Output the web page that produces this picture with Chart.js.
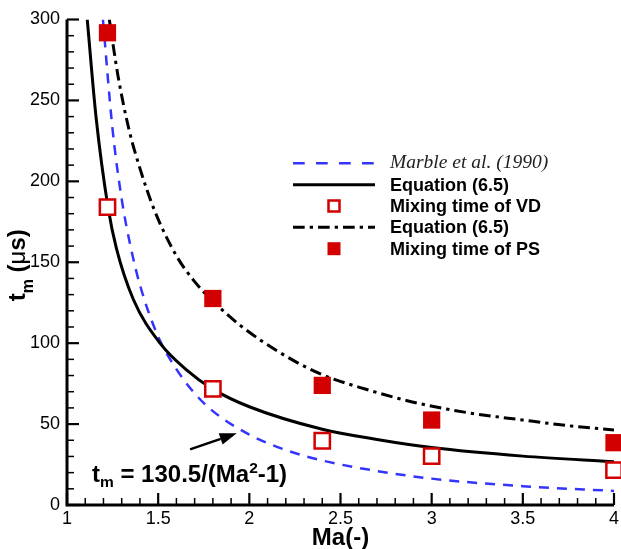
<!DOCTYPE html>
<html>
<head>
<meta charset="utf-8">
<script src="https://cdn.jsdelivr.net/npm/chart.js@4.4.0/dist/chart.umd.min.js"></script>
<style>
  html, body { margin: 0; padding: 0; background: #fff; }
</style>
</head>
<body>
<canvas id="mixChart" width="621" height="549"></canvas>
<script>
// Marble et al. (1990) - blue dashed curve
const maMarble = [1.197, 1.25, 1.3, 1.35, 1.4, 1.5, 1.6, 1.7, 1.8, 2.0, 2.2, 2.4, 2.7, 3.0, 3.5, 4.0];
const tMarble = [300, 232, 189, 159, 136, 104, 84, 69, 58, 43.5, 34, 27.5, 21, 16.3, 11.6, 8.7];

// Equation (6.5) - solid black curve
const maSolid = [1.111, 1.16, 1.225, 1.27, 1.364, 1.51, 1.65, 1.8, 2.0, 2.4, 2.7, 3.0, 3.5, 4.0];
const tSolid = [300, 239, 184, 159, 127, 100, 84, 71.6, 60.7, 46.8, 40.5, 35.5, 30.2, 26.7];

// Equation (6.5) - dash-dot curve
const maDashDot = [1.232, 1.28, 1.34, 1.40, 1.48, 1.6, 1.7, 1.8, 1.95, 2.17, 2.39, 2.64, 2.92, 3.2, 3.5, 3.75, 4.0];
const tDashDot = [300, 265, 232, 208, 182, 154, 138, 126, 111, 94, 81, 71.5, 63, 57, 52.5, 49, 46.3];

// Mixing time points
const maPoints = [1.222, 1.8, 2.4, 3.0, 4.0];
const tVD = [184, 71.8, 39.7, 30.2, 21.6];
const tPS = [291.8, 127.6, 73.9, 52.5, 38.5];

// Legend / annotation texts
const legendLabels = ['Marble et al. (1990)', 'Equation (6.5)', 'Mixing time of VD', 'Equation (6.5)', 'Mixing time of PS'];
const annotationPos = [1.137, 14.4];
const arrowFrom = [1.675, 34.4];
const arrowTo = [1.931, 44.3];

const RED = '#d20000';
const BLUE = '#3434ff';
const SANS = "'Liberation Sans', Arial, Helvetica, sans-serif";
const SERIF = "'Liberation Serif', 'Times New Roman', serif";

const toXY = (xs, ys) => xs.map((x, i) => ({x: x, y: ys[i]}));

//Оси и засечки внутрь
const axesPlugin = {
  id: 'axesPlugin',
  afterDraw(chart) {
    const ctx = chart.ctx;
    const xs = chart.scales.x;
    const ys = chart.scales.y;
    const area = chart.chartArea;
    ctx.save();
    ctx.strokeStyle = '#000';
    ctx.lineCap = 'butt';

    // x ticks
    for (let i = 0; i <= 30; i++) {
      const v = 1 + i * 0.1;
      const px = xs.getPixelForValue(v);
      const major = i % 5 === 0;
      ctx.lineWidth = major ? 2.2 : 1.5;
      ctx.beginPath();
      ctx.moveTo(px, area.bottom);
      ctx.lineTo(px, area.bottom - (major ? 12 : 7));
      ctx.stroke();
    }
    // y ticks
    for (let i = 0; i <= 30; i++) {
      const v = i * 10;
      const py = ys.getPixelForValue(v);
      const major = i % 5 === 0;
      ctx.lineWidth = major ? 2.2 : 1.5;
      ctx.beginPath();
      ctx.moveTo(area.left, py);
      ctx.lineTo(area.left + (major ? 12 : 7), py);
      ctx.stroke();
    }

    // axis lines
    ctx.lineWidth = 3;
    ctx.beginPath();
    ctx.moveTo(area.left, area.top);
    ctx.lineTo(area.left, area.bottom + 1.5);
    ctx.moveTo(area.left - 1.5, area.bottom);
    ctx.lineTo(area.right, area.bottom);
    ctx.stroke();

    // x title
    ctx.fillStyle = '#000';
    ctx.font = 'bold 24px ' + SANS;
    ctx.textAlign = 'center';
    ctx.textBaseline = 'alphabetic';
    ctx.fillText('Ma(-)', (area.left + area.right) / 2, 545);

    // y title: t_m (μs)
    ctx.translate(25, (area.top + area.bottom) / 2 + 3);
    ctx.rotate(-Math.PI / 2);
    ctx.textAlign = 'left';
    const parts = [
      {t: 't', f: 'bold 24px ' + SANS, dy: 0},
      {t: 'm', f: 'bold 16px ' + SANS, dy: 8},
      {t: ' (', f: 'bold 24px ' + SANS, dy: 0},
      {t: 'μ', f: '24px ' + SANS, dy: 0},
      {t: 's)', f: 'bold 24px ' + SANS, dy: 0}
    ];
    let total = 0;
    parts.forEach(p => { ctx.font = p.f; p.w = ctx.measureText(p.t).width; total += p.w; });
    let cx = -total / 2;
    parts.forEach(p => { ctx.font = p.f; ctx.fillText(p.t, cx, p.dy); cx += p.w; });
    ctx.restore();
  }
};

//Легенда
const legendPlugin = {
  id: 'legendPlugin',
  afterDraw(chart) {
    const ctx = chart.ctx;
    const rows = [163.3, 184.7, 206, 227.3, 248.7];
    const x1 = 293, x2 = 375, mx = 334, tx = 390;
    ctx.save();

    // blue dashed
    ctx.strokeStyle = BLUE;
    ctx.lineWidth = 2.5;
    ctx.setLineDash([11.7, 11.3]);
    ctx.beginPath();
    ctx.moveTo(x1, rows[0]);
    ctx.lineTo(x2, rows[0]);
    ctx.stroke();

    // solid
    ctx.setLineDash([]);
    ctx.strokeStyle = '#000';
    ctx.lineWidth = 3;
    ctx.beginPath();
    ctx.moveTo(x1, rows[1]);
    ctx.lineTo(x2, rows[1]);
    ctx.stroke();

    // open square
    ctx.fillStyle = '#fff';
    ctx.strokeStyle = RED;
    ctx.lineWidth = 2.5;
    ctx.fillRect(mx - 5.5, rows[2] - 5.5, 11, 11);
    ctx.strokeRect(mx - 5.5, rows[2] - 5.5, 11, 11);

    // dash-dot
    ctx.strokeStyle = '#000';
    ctx.lineWidth = 3;
    ctx.setLineDash([11.7, 5, 3.3, 5]);
    ctx.beginPath();
    ctx.moveTo(x1, rows[3]);
    ctx.lineTo(x2, rows[3]);
    ctx.stroke();
    ctx.setLineDash([]);

    // filled square
    ctx.fillStyle = RED;
    ctx.fillRect(mx - 6.5, rows[4] - 6.5, 13, 13);

    // texts
    ctx.textAlign = 'left';
    ctx.textBaseline = 'middle';
    ctx.fillStyle = '#222';
    ctx.font = 'italic 19.5px ' + SERIF;
    ctx.fillText(legendLabels[0], tx, rows[0]);
    ctx.fillStyle = '#000';
    ctx.font = 'bold 18px ' + SANS;
    for (let i = 1; i < legendLabels.length; i++) {
      ctx.fillText(legendLabels[i], tx, rows[i] + 1);
    }
    ctx.restore();
  }
};

//Подпись формулы и стрелка
const annotationPlugin = {
  id: 'annotationPlugin',
  afterDraw(chart) {
    const ctx = chart.ctx;
    const xs = chart.scales.x;
    const ys = chart.scales.y;
    ctx.save();

    // arrow
    const ax1 = xs.getPixelForValue(arrowFrom[0]);
    const ay1 = ys.getPixelForValue(arrowFrom[1]);
    const ax2 = xs.getPixelForValue(arrowTo[0]);
    const ay2 = ys.getPixelForValue(arrowTo[1]);
    const ang = Math.atan2(ay2 - ay1, ax2 - ax1);
    const headLen = 17, headW = 6;
    const bx = ax2 - headLen * Math.cos(ang);
    const by = ay2 - headLen * Math.sin(ang);
    ctx.strokeStyle = '#000';
    ctx.fillStyle = '#000';
    ctx.lineWidth = 2.5;
    ctx.beginPath();
    ctx.moveTo(ax1, ay1);
    ctx.lineTo(bx, by);
    ctx.stroke();
    ctx.beginPath();
    ctx.moveTo(ax2, ay2);
    ctx.lineTo(bx + headW * Math.sin(ang), by - headW * Math.cos(ang));
    ctx.lineTo(bx - headW * Math.sin(ang), by + headW * Math.cos(ang));
    ctx.closePath();
    ctx.fill();

    // text t_m = 130.5/(Ma^2-1)
    let px = xs.getPixelForValue(annotationPos[0]);
    const py = ys.getPixelForValue(annotationPos[1]);
    ctx.textAlign = 'left';
    ctx.textBaseline = 'alphabetic';
    const parts = [
      {t: 't', f: 'bold 24px ' + SANS, dy: 0},
      {t: 'm', f: 'bold 15.5px ' + SANS, dy: 5},
      {t: ' = 130.5/(Ma', f: 'bold 24px ' + SANS, dy: 0},
      {t: '2', f: 'bold 15.5px ' + SANS, dy: -8.5},
      {t: '-1)', f: 'bold 24px ' + SANS, dy: 0}
    ];
    parts.forEach(p => {
      ctx.font = p.f;
      ctx.fillText(p.t, px, py + p.dy);
      px += ctx.measureText(p.t).width;
    });
    ctx.restore();
  }
};

const chartCanvas = document.getElementById('mixChart');

const mixChart = new Chart(chartCanvas, {
  type: 'scatter',
  data: {
    datasets: [
      {
        label: legendLabels[4],
        data: toXY(maPoints, tPS),
        pointStyle: 'rect',
        pointRadius: 12.2,
        backgroundColor: RED,
        borderWidth: 0,
        clip: false,
        order: 0
      },
      {
        label: legendLabels[2],
        data: toXY(maPoints, tVD),
        pointStyle: 'rect',
        pointRadius: 10.8,
        backgroundColor: '#fff',
        borderColor: RED,
        borderWidth: 2.5,
        clip: false,
        order: 1
      },
      {
        label: legendLabels[3],
        data: toXY(maDashDot, tDashDot),
        showLine: true,
        pointRadius: 0,
        borderColor: '#000',
        borderWidth: 3,
        borderDash: [11.7, 5, 3.3, 5],
        cubicInterpolationMode: 'monotone',
        order: 2
      },
      {
        label: legendLabels[1],
        data: toXY(maSolid, tSolid),
        showLine: true,
        pointRadius: 0,
        borderColor: '#000',
        borderWidth: 3,
        cubicInterpolationMode: 'monotone',
        order: 3
      },
      {
        label: legendLabels[0],
        data: toXY(maMarble, tMarble),
        showLine: true,
        pointRadius: 0,
        borderColor: BLUE,
        borderWidth: 2.5,
        borderDash: [10, 8],
        cubicInterpolationMode: 'monotone',
        order: 4
      }
    ]
  },
  options: {
    responsive: false,
    animation: false,
    events: [],
    layout: {
      autoPadding: false,
      padding: {left: 0, top: 19.5, right: 7, bottom: 0}
    },
    plugins: {
      legend: {display: false},
      tooltip: {enabled: false}
    },
    scales: {
      x: {
        type: 'linear',
        min: 1,
        max: 4,
        afterFit: (scale) => {
          scale.height = 44;
          scale.paddingLeft = 0;
          scale.paddingRight = 0;
        },
        grid: {display: false, drawTicks: false},
        border: {display: false},
        ticks: {
          stepSize: 0.5,
          padding: 3,
          color: '#000',
          font: {family: SANS, size: 18},
          maxRotation: 0,
          callback: (value) => String(Math.round(value * 10) / 10)
        }
      },
      y: {
        type: 'linear',
        min: 0,
        max: 300,
        afterFit: (scale) => {
          scale.width = 67;
          scale.paddingTop = 0;
          scale.paddingBottom = 0;
        },
        grid: {display: false, drawTicks: false},
        border: {display: false},
        ticks: {
          stepSize: 50,
          padding: 7,
          color: '#000',
          font: {family: SANS, size: 18}
        }
      }
    }
  },
  plugins: [axesPlugin, legendPlugin, annotationPlugin]
});
</script>
</body>
</html>
